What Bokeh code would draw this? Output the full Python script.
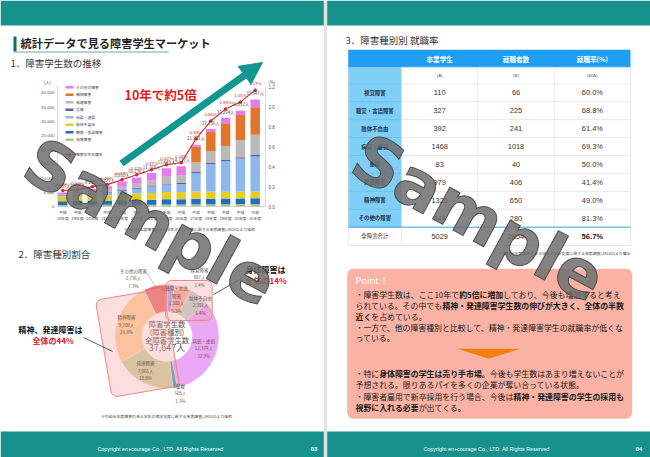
import math
from bokeh.plotting import figure
from bokeh.models import Range1d, Arrow, NormalHead, ColumnDataSource
from bokeh.embed import file_html
from bokeh.resources import INLINE
from bokeh.core.properties import value

# ======================= DATA =======================
# --- 1. stacked bars: students with disabilities per year
era_labels = ["平成"] * 13 + ["令和"]
year_labels = ["18年度", "19年度", "20年度", "21年度", "22年度", "23年度", "24年度",
               "25年度", "26年度", "27年度", "28年度", "29年度", "30年度", "元年度"]
series_names = ["視覚障害", "聴覚・言語障害", "肢体不自由", "病弱・虚弱", "重複",
                "発達障害", "精神障害", "その他の障害"]
s_visual = [519, 536, 577, 578, 600, 606, 657, 714, 723, 757, 795, 818, 837, 887]
s_hearing = [1368, 1473, 1541, 1547, 1570, 1646, 1715, 1798, 1843, 1963, 1956, 1965, 1982, 1980]
s_physical = [1640, 1688, 1736, 1860, 2059, 2304, 2409, 2546, 2522, 2595, 2498, 2432, 2427, 2391]
s_illness = [370, 440, 555, 969, 1350, 1711, 2233, 2638, 2788, 6462, 9627, 10671, 11614, 12374]
s_multiple = [171, 178, 207, 215, 264, 291, 340, 381, 411, 360, 420, 470, 500, 505]
s_develop = [127, 299, 578, 880, 1064, 1453, 1878, 2393, 2722, 3442, 4150, 4905, 6047, 7065]
s_mental = [0, 0, 0, 0, 0, 0, 0, 0, 0, 5424, 6775, 8000, 8789, 9709]
s_other = [742, 790, 1041, 1054, 1903, 2225, 2536, 2979, 3118, 718, 1035, 1943, 1616, 2736]
totals = [4937, 5404, 6235, 7103, 8810, 10236, 11768, 13449, 14127, 21721, 27256, 31204, 33812, 37647]
rates = [0.16, 0.17, 0.20, 0.22, 0.27, 0.32, 0.37, 0.42, 0.44, 0.68, 0.86, 0.98, 1.05, 1.17]
left_ticks = [0, 5000, 10000, 15000, 20000, 25000, 30000, 35000, 40000]
right_ticks = [0.0, 0.2, 0.4, 0.6, 0.8, 1.0, 1.2]
rate_name = "障害学生在籍率"

# --- 2. donut: share by type (R1)
donut_names = ["視覚障害", "聴覚・言語障害", "肢体不自由", "病弱・虚弱", "重複",
               "発達障害", "精神障害", "その他の障害"]
donut_values = [887, 1980, 2391, 12374, 505, 7065, 9709, 2736]
donut_pcts = ["2.4%", "5.3%", "6.4%", "32.9%", "1.3%", "18.8%", "25.8%", "7.3%"]
donut_total_label = "37,647人"

# --- 3. table: employment rate by type
table_rows = ["視覚障害", "聴覚・言語障害", "肢体不自由", "病弱・虚弱", "重複",
              "発達障害", "精神障害", "その他の障害"]
grads = [110, 327, 392, 1468, 83, 979, 1326, 344]
employed = [66, 225, 241, 1018, 40, 406, 650, 280]
emp_rates = ["60.0%", "68.8%", "61.4%", "69.3%", "50.0%", "41.4%", "49.0%", "81.3%"]
total_label = "全障害合計"
total_grads = 5029
total_employed = 2854
total_rate = "56.7%"
table_head = ["卒業学生", "就職者数", "就職率(%)"]
table_sub = ["(A)", "(B)", "(B/A)"]

# ======================= STYLE =======================
TEAL = "#16918b"
JP = value("Noto Sans CJK JP")
LAT = value("Liberation Sans")
series_colors = ["#aec47c", "#1f6ec6", "#e6cd22", "#8db8ee", "#6b5aa8", "#b9b9b9", "#e2742b", "#e47cf0"]
donut_colors = ["#a9a6e6", "#f5b2a2", "#b9dbd0", "#eba8f6", "#2b9fd0", "#c9d8a4", "#ffd49c", "#e67474"]
RED = "#d8262a"

W, H = 650, 457
p = figure(width=W, height=H, x_range=Range1d(0, W), y_range=Range1d(H, 0),
           output_backend="svg", toolbar_location=None, min_border=0,
           x_axis_location=None, y_axis_location=None)
p.grid.visible = False
p.outline_line_color = None
p.background_fill_color = "white"
p.border_fill_color = "white"


def x_map_range(px0, v0, px1, v1):
    b = (px1 - px0) / (v1 - v0)
    a = px0 - b * v0
    return Range1d(start=(0 - a) / b, end=(W - a) / b)


def y_map_range(px0, v0, px1, v1):
    b = (px1 - px0) / (v1 - v0)
    a = px0 - b * v0
    return Range1d(start=(H - a) / b, end=(0 - a) / b)


def txt(x, y, t, size, color="#333", align="left", bold=False, font=JP, **kw):
    p.text(x=x if isinstance(x, list) else [x], y=y if isinstance(y, list) else [y],
           text=t if isinstance(t, list) else [t], text_font=font, text_font_size=size,
           text_color=color, text_align=align, text_baseline="middle",
           text_font_style="bold" if bold else "normal", **kw)


# ---------------- page frames ----------------
p.quad(left=[323.3], right=[326.7], top=[0], bottom=[H], fill_color="#e3e3e3", line_color=None)
p.quad(left=[0, 326.7], right=[323.3, W], top=[0, 0], bottom=[25, 25], fill_color=TEAL, line_color=None)
p.quad(left=[0, 326.7], right=[323.3, W], top=[431, 431], bottom=[H, H], fill_color=TEAL, line_color=None)
txt([160, 486], [448.3, 448.3], ["Copyright en+courage Co., LTD. All Rights Reserved"] * 2,
    "5.4px", "white", "center", font=LAT)
txt([313.5, 638.5], [448.3, 448.3], ["03", "04"], "6px", "white", "center", bold=True, font=LAT)

# ---------------- left page headings ----------------
p.quad(left=[13], right=[16], top=[36], bottom=[51], fill_color="#0f6d68", line_color=None)
p.segment(x0=[13], y0=[51.5], x1=[168], y1=[51.5], line_color="#6aa9a5", line_width=1)
txt(20, 42.5, "統計データで見る障害学生マーケット", "11.2px", "#222", bold=True)
txt(10, 62, "1．障害学生数の推移", "9.5px", "#333")
txt(18, 253.5, "2．障害種別割合", "9.5px", "#333")

# ---------------- bar chart ----------------
p.extra_x_ranges = {"bx": x_map_range(62.3, 0, 254.7, 13)}
p.extra_y_ranges = {"by": y_map_range(206, 0, 92.3, 40000),
                    "ry": y_map_range(206, 0, 86.7, 1.2)}
BX0, BX1 = -0.36, 13.69
idx = list(range(len(totals)))
keys = [f"s{i}" for i in range(8)]
src = ColumnDataSource(dict(idx=idx, s0=s_visual, s1=s_hearing, s2=s_physical, s3=s_illness,
                            s4=s_multiple, s5=s_develop, s6=s_mental, s7=s_other))
p.vbar_stack(keys, x="idx", width=0.64, fill_color=series_colors, line_color=None,
             source=src, x_range_name="bx", y_range_name="by")
p.segment(x0=[BX0, BX0, BX1], y0=[0, 0, 0], x1=[BX1, BX0, BX1], y1=[0, 42200, 42200],
          line_color="#bdbdbd", line_width=0.6, x_range_name="bx", y_range_name="by")
p.text(x=[BX0] * len(left_ticks), y=left_ticks, text=[f"{t:,}" for t in left_ticks],
       x_range_name="bx", y_range_name="by", x_offset=-3, text_align="right",
       text_baseline="middle", text_font_size="4.4px", text_color="#555", text_font=LAT)
p.text(x=[BX1] * len(right_ticks), y=right_ticks, text=[f"{t:.1f}" for t in right_ticks],
       x_range_name="bx", y_range_name="ry", x_offset=3, text_align="left",
       text_baseline="middle", text_font_size="4.6px", text_color="#555", text_font=LAT)
txt(47, 81, "(人)", "4.2px", "#555", "center")
txt(268, 81, "(%)", "4.2px", "#555", "left")
p.text(x=idx, y=[211.3] * 14, text=era_labels, x_range_name="bx", text_align="center",
       text_baseline="middle", text_font_size="3.9px", text_color="#444", text_font=JP)
p.text(x=idx, y=[217] * 14, text=year_labels, x_range_name="bx", text_align="center",
       text_baseline="middle", text_font_size="3.9px", text_color="#444", text_font=JP)
# rate line
p.line(x=idx, y=rates, x_range_name="bx", y_range_name="ry", line_color=RED, line_width=1.1)
p.scatter(x=idx, y=rates, x_range_name="bx", y_range_name="ry", size=2.6, color=RED)
p.text(x=idx, y=totals, text=[f"{t:,}人" for t in totals], x_range_name="bx", y_range_name="by",
       y_offset=-6.3, text_align="center", text_baseline="middle", text_font_size="4.4px",
       text_color="#444", text_font=JP)
p.text(x=idx, y=rates, text=[f"{r:.2f}%" for r in rates], x_range_name="bx", y_range_name="ry",
       y_offset=-6.5, text_align="center", text_baseline="middle", text_font_size="4.4px",
       text_color=RED, text_font=LAT)
# legend (top to bottom = reversed stack)
leg_names = series_names[::-1]
leg_colors = series_colors[::-1]
leg_y = [86.7 + 7.5 * i for i in range(len(leg_names))]
p.rect(x=[69] * 8, y=leg_y, width=8, height=2.6, fill_color=leg_colors, line_color=None)
txt([75.5] * 8, leg_y, leg_names, "3.8px", "#444")
p.segment(x0=[65], y0=[154], x1=[73], y1=[154], line_color=RED, line_width=1.1)
p.scatter(x=[69], y=[154], size=2.6, color=RED)
txt(75.5, 154, rate_name, "3.8px", "#444")
# big arrow + headline
p.add_layout(Arrow(x_start=121, y_start=163, x_end=262, y_end=62, line_color="#13968f",
                   line_width=7, end=NormalHead(size=22, fill_color="#13968f", line_color="#13968f")))
txt(124, 93.5, "10年で約5倍", "12.5px", "#e0201c", bold=True)
txt(189, 228.5, "※令和元年度障害のある学生の修学支援に関する実態調査(JASSO)より抜粋", "3.9px", "#444", "center")

# ---------------- donut ----------------
CX, CY, R_IN, R_OUT = 166.5, 336, 25, 52
tot = sum(donut_values)
starts, ends, acc = [], [], 0
for v in donut_values:
    starts.append(math.pi / 2 - 2 * math.pi * acc / tot)
    acc += v
    ends.append(math.pi / 2 - 2 * math.pi * acc / tot)
p.annular_wedge(x=[CX] * 8, y=[CY] * 8, inner_radius=R_IN, outer_radius=R_OUT,
                start_angle=starts, end_angle=ends, direction="clock",
                fill_color=donut_colors, line_color="white", line_width=0.4)
txt([CX] * 3, [322.7, 331.3, 339.3], ["障害学生数", "(障害種別)", "全障害学生数"], "7.4px", "#555", "center")
txt(CX, 347, donut_total_label, "9px", "#555", "center")
# highlight boxes
try:
    p.rect(x=[137, 188.3], y=[342.5, 300], width=[68.7, 46.7], height=[98.5, 40], angle=[0.17, 0],
           fill_color="#f6a0a0", fill_alpha=0.35, line_color="#ee8888", line_width=1, border_radius=6)
except Exception:
    p.rect(x=[137, 188.3], y=[342.5, 300], width=[68.7, 46.7], height=[98.5, 40], angle=[0.17, 0],
           fill_color="#f6a0a0", fill_alpha=0.35, line_color="#ee8888", line_width=1)
# labels
dl_pos = {
    "視覚障害": (199, 269.3), "聴覚・言語障害": (176, 287.7), "肢体不自由": (200, 297.3),
    "病弱・虚弱": (203.3, 340), "重複": (180, 385), "発達障害": (145, 362.7),
    "精神障害": (126, 316.7), "その他の障害": (133, 270),
}
for name, v, pct in zip(donut_names, donut_values, donut_pcts):
    lx, ly = dl_pos[name]
    lines = ["聴覚・言語", "障害"] if name == "聴覚・言語障害" else [name]
    lines += [f"{v:,}人", pct]
    txt([lx] * len(lines), [ly + 7.6 * k for k in range(len(lines))], lines, "4.5px", "#6d5550", "center")
p.segment(x0=[146], y0=[272], x1=[155], y1=[286], line_color="#999", line_width=0.6)
# callouts
txt(245, 268.5, "身体障害は", "8px", "#111", bold=True)
txt(245, 279.5, "全体の14%", "8px", "#e0201c", bold=True)
p.segment(x0=[213], y0=[294], x1=[241], y1=[278], line_color="#333", line_width=0.8)
txt(18, 328.5, "精神、発達障害は", "8px", "#111", bold=True)
txt(32, 339.5, "全体の44%", "8px", "#e0201c", bold=True)
p.segment(x0=[83], y0=[337], x1=[112], y1=[351], line_color="#333", line_width=0.8)
txt(166, 415, "※令和元年度障害のある学生の修学支援に関する実態調査(JASSO)より抜粋", "3.9px", "#444", "center")

# ---------------- right page: table ----------------
txt(345, 39, "3．障害種別別 就職率", "9.5px", "#333")
col_edges = [347.7, 401, 477.3, 553.7, 630]
col_mid = [(a + b) / 2 for a, b in zip(col_edges[:-1], col_edges[1:])]
HEAD_T, HEAD_B, SUB_B = 49.3, 66.7, 83.3
ROW_H = 17.92
row_mid = [SUB_B + ROW_H * (i + 0.5) for i in range(len(table_rows))]
DATA_B = SUB_B + ROW_H * len(table_rows)
TOT_B = DATA_B + 18.3
p.quad(left=[col_edges[0]], right=[col_edges[-1]], top=[HEAD_T], bottom=[HEAD_B],
       fill_color="#1e9df2", line_color=None)
p.quad(left=[col_edges[0]], right=[col_edges[1]], top=[HEAD_B], bottom=[DATA_B],
       fill_color="#80cff7", line_color=None)
hl = [HEAD_B, SUB_B] + [SUB_B + ROW_H * (i + 1) for i in range(len(table_rows) - 1)]
p.segment(x0=[col_edges[1]] * len(hl), y0=hl, x1=[col_edges[-1]] * len(hl), y1=hl,
          line_color="#dadada", line_width=0.6)
p.segment(x0=[col_edges[0]] * len(hl), y0=hl, x1=[col_edges[1]] * len(hl), y1=hl,
          line_color="#66b9e8", line_width=0.6)
p.segment(x0=col_edges, y0=[HEAD_B] * 5, x1=col_edges, y1=[TOT_B] * 5,
          line_color="#dadada", line_width=0.6)
p.segment(x0=[col_edges[0]], y0=[TOT_B], x1=[col_edges[-1]], y1=[TOT_B], line_color="#d5d5d5", line_width=0.6)
p.segment(x0=[col_edges[0]], y0=[DATA_B], x1=[col_edges[-1]], y1=[DATA_B], line_color="#3c9de2", line_width=1)
txt(col_mid[1:], [58] * 3, table_head, "6.6px", "white", "center", bold=True)
txt(col_mid[1:], [75] * 3, table_sub, "4.4px", "#555", "center", font=LAT)
txt([col_mid[0]] * 8, row_mid, table_rows, "5.4px", "#1b2f4a", "center", bold=True)
txt([col_mid[1]] * 8, row_mid, [str(g) for g in grads], "7.4px", "#333", "center", font=LAT)
txt([col_mid[2]] * 8, row_mid, [str(e) for e in employed], "7.4px", "#333", "center", font=LAT)
txt([col_mid[3]] * 8, row_mid, emp_rates, "7.4px", "#333", "center", font=LAT)
ty = (DATA_B + TOT_B) / 2
txt(col_mid[0], ty, total_label, "5.4px", "#333", "center")
txt(col_mid[1:3], [ty, ty], [str(total_grads), str(total_employed)], "7.4px", "#333", "center", font=LAT)
txt(col_mid[3], ty, total_rate, "7.6px", "#222", "center", bold=True, font=LAT)
txt(630, 252.3, "※令和元年度 障害のある学生の修学支援に関する実態調査(JASSO)より算出", "3.9px", "#444", "right")

# ---------------- right page: point box ----------------
try:
    p.rect(x=[489.2], y=[343.3], width=[285], height=[150], fill_color="#f9b2a3",
           line_color=None, border_radius=6)
except Exception:
    p.rect(x=[489.2], y=[343.3], width=[285], height=[150], fill_color="#f9b2a3", line_color=None)
txt(355, 280, "Point！", "9.5px", "white", font=value("Noto Sans"))
point_lines = [
    [("・障害学生数は、ここ10年で", 0), ("約5倍に増加", 1), ("しており、今後も増加すると考え", 0)],
    [("られている。その中でも", 0), ("精神・発達障害学生数の伸びが大きく、全体の半数", 1)],
    [("近く", 1), ("を占めている。", 0)],
    [("・一方で、他の障害種別と比較して、精神・発達障害学生の就職率が低くな", 0)],
    [("っている。", 0)],
    [("・特に", 0), ("身体障害の学生は売り手市場。", 1), ("今後も学生数はあまり増えないことが", 0)],
    [("予想される。限りあるパイを多くの企業が奪い合っている状態。", 0)],
    [("・障害者雇用で新卒採用を行う場合、今後は", 0), ("精神・発達障害の学生の採用も", 1)],
    [("視野に入れる必要", 1), ("が出てくる。", 0)],
]
line_y = [294.3, 305, 315.5, 326.7, 337.3, 373.3, 384, 395.7, 406.7]
FS = 7.9


def em_w(s):
    return sum(1.0 if ord(c) > 0x2000 else (0.56 if c.isdigit() else 0.5) for c in s)


for segs, ly in zip(point_lines, line_y):
    x = 355.0
    for s, b in segs:
        txt(x, ly, s, f"{FS}px", "#1a1a1a", bold=bool(b))
        x += em_w(s) * FS
tri_cx, tri_top, tri_w, tri_h = 488.3, 348.3, 63, 10
p.patch(x=[tri_cx - tri_w / 2, tri_cx + tri_w / 2, tri_cx], y=[tri_top, tri_top, tri_top + tri_h],
        fill_color="#f2800f", line_color=None)

# ---------------- watermarks ----------------
wm = dict(x=[150, 478], y=[222, 218], text=["Sample", "Sample"], angle=-0.5,
          text_font=value("DejaVu Sans"), text_font_style="bold", text_font_size="66px",
          text_color="#6e6e6e", text_alpha=0.85, text_align="center", text_baseline="middle")
try:
    p.text(**wm, text_outline_color="#3f3f3f")
except Exception:
    p.text(**wm)

open("out.html", "w").write(file_html(p, INLINE, "chart"))
